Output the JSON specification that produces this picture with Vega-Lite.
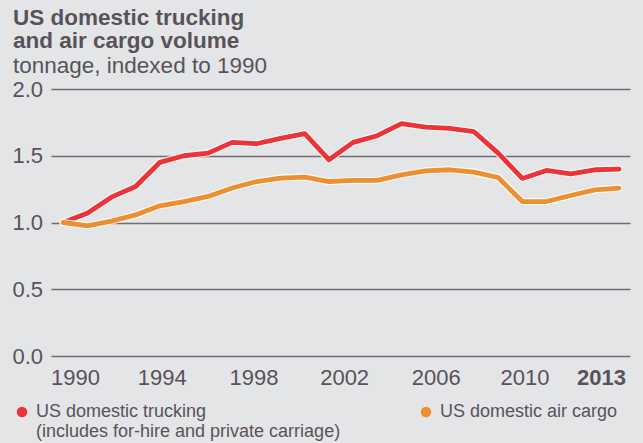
{
  "$schema": "https://vega.github.io/schema/vega-lite/v6.json",
  "width": 579,
  "height": 267,
  "autosize": {"type": "none"},
  "padding": {"left": 51, "top": 89, "right": 13, "bottom": 87},
  "background": "#e4e5e7",
  "config": {
    "view": {"stroke": null},
    "font": "Liberation Sans"
  },
  "title": {
    "text": ["US domestic trucking", "and air cargo volume"],
    "subtitle": "tonnage, indexed to 1990",
    "anchor": "start",
    "frame": "group",
    "dx": -38,
    "offset": 1,
    "font": "Liberation Sans",
    "fontSize": 22.5,
    "fontWeight": "bold",
    "lineHeight": 23.5,
    "color": "#58535a",
    "subtitleFont": "Liberation Sans",
    "subtitleFontSize": 22.5,
    "subtitleColor": "#58535a",
    "subtitlePadding": 2
  },
  "data": {
    "values": [
      {"year": 1990, "series": "US domestic trucking", "value": 1.00},
      {"year": 1991, "series": "US domestic trucking", "value": 1.07},
      {"year": 1992, "series": "US domestic trucking", "value": 1.19},
      {"year": 1993, "series": "US domestic trucking", "value": 1.27},
      {"year": 1994, "series": "US domestic trucking", "value": 1.45},
      {"year": 1995, "series": "US domestic trucking", "value": 1.50},
      {"year": 1996, "series": "US domestic trucking", "value": 1.52},
      {"year": 1997, "series": "US domestic trucking", "value": 1.60},
      {"year": 1998, "series": "US domestic trucking", "value": 1.59},
      {"year": 1999, "series": "US domestic trucking", "value": 1.63},
      {"year": 2000, "series": "US domestic trucking", "value": 1.665},
      {"year": 2001, "series": "US domestic trucking", "value": 1.47},
      {"year": 2002, "series": "US domestic trucking", "value": 1.60},
      {"year": 2003, "series": "US domestic trucking", "value": 1.65},
      {"year": 2004, "series": "US domestic trucking", "value": 1.74},
      {"year": 2005, "series": "US domestic trucking", "value": 1.715},
      {"year": 2006, "series": "US domestic trucking", "value": 1.705},
      {"year": 2007, "series": "US domestic trucking", "value": 1.68},
      {"year": 2008, "series": "US domestic trucking", "value": 1.52},
      {"year": 2009, "series": "US domestic trucking", "value": 1.33},
      {"year": 2010, "series": "US domestic trucking", "value": 1.39},
      {"year": 2011, "series": "US domestic trucking", "value": 1.365},
      {"year": 2012, "series": "US domestic trucking", "value": 1.395},
      {"year": 2013, "series": "US domestic trucking", "value": 1.40},
      {"year": 1990, "series": "US domestic air cargo", "value": 1.00},
      {"year": 1991, "series": "US domestic air cargo", "value": 0.975},
      {"year": 1992, "series": "US domestic air cargo", "value": 1.01},
      {"year": 1993, "series": "US domestic air cargo", "value": 1.057},
      {"year": 1994, "series": "US domestic air cargo", "value": 1.125},
      {"year": 1995, "series": "US domestic air cargo", "value": 1.157},
      {"year": 1996, "series": "US domestic air cargo", "value": 1.195},
      {"year": 1997, "series": "US domestic air cargo", "value": 1.258},
      {"year": 1998, "series": "US domestic air cargo", "value": 1.307},
      {"year": 1999, "series": "US domestic air cargo", "value": 1.333},
      {"year": 2000, "series": "US domestic air cargo", "value": 1.34},
      {"year": 2001, "series": "US domestic air cargo", "value": 1.307},
      {"year": 2002, "series": "US domestic air cargo", "value": 1.315},
      {"year": 2003, "series": "US domestic air cargo", "value": 1.315},
      {"year": 2004, "series": "US domestic air cargo", "value": 1.357},
      {"year": 2005, "series": "US domestic air cargo", "value": 1.387},
      {"year": 2006, "series": "US domestic air cargo", "value": 1.395},
      {"year": 2007, "series": "US domestic air cargo", "value": 1.378},
      {"year": 2008, "series": "US domestic air cargo", "value": 1.337},
      {"year": 2009, "series": "US domestic air cargo", "value": 1.157},
      {"year": 2010, "series": "US domestic air cargo", "value": 1.157},
      {"year": 2011, "series": "US domestic air cargo", "value": 1.202},
      {"year": 2012, "series": "US domestic air cargo", "value": 1.245},
      {"year": 2013, "series": "US domestic air cargo", "value": 1.258}
    ]
  },
  "encoding": {
    "x": {
      "field": "year",
      "type": "quantitative",
      "scale": {"domain": [1989.5, 2013.455], "nice": false, "zero": false},
      "axis": {
        "title": null,
        "values": [1990, 1994, 1998, 2002, 2006, 2010, 2013],
        "format": "d",
        "grid": false,
        "ticks": false,
        "domain": false,
        "labelFont": "Liberation Sans",
        "labelFontSize": 22,
        "labelColor": "#58535a",
        "labelPadding": 11,
        "labelBaseline": "top",
        "labelFontWeight": {"condition": {"test": "datum.value == 2013", "value": "bold"}, "value": "normal"},
        "labelOffset": {
          "condition": [
            {"test": "datum.value == 1990", "value": 12},
            {"test": "datum.value == 1994", "value": 2},
            {"test": "datum.value == 1998", "value": -3},
            {"test": "datum.value == 2002", "value": -9},
            {"test": "datum.value == 2006", "value": -14},
            {"test": "datum.value == 2010", "value": -22},
            {"test": "datum.value == 2013", "value": -18}
          ],
          "value": 0
        }
      }
    },
    "y": {
      "field": "value",
      "type": "quantitative",
      "scale": {"domain": [0, 2], "nice": false},
      "axis": {
        "title": null,
        "values": [0, 0.5, 1, 1.5, 2],
        "format": ".1f",
        "grid": true,
        "gridColor": "#716c72",
        "gridWidth": 1.6,
        "gridOpacity": 1,
        "ticks": false,
        "domain": false,
        "labelAlign": "left",
        "labelBaseline": "middle",
        "labelPadding": 39,
        "labelFont": "Liberation Sans",
        "labelFontSize": 22,
        "labelColor": "#58535a"
      }
    },
    "color": {
      "field": "series",
      "type": "nominal",
      "scale": {
        "domain": ["US domestic trucking", "US domestic air cargo"],
        "range": ["#ec3338", "#eb8f30"]
      },
      "legend": {
        "title": null,
        "orient": "none",
        "legendX": -38,
        "legendY": 314,
        "direction": "horizontal",
        "columns": 2,
        "columnPadding": 76,
        "symbolType": "circle",
        "symbolSize": 110,
        "symbolStrokeWidth": 0,
        "labelFont": "Liberation Sans",
        "labelFontSize": 18,
        "labelColor": "#58535a",
        "labelOffset": 5,
        "labelLimit": 0,
        "labelExpr": "datum.value == 'US domestic trucking' ? ['US domestic trucking', '(includes for-hire and private carriage)'] : [datum.label, ' ']",
        "encode": {
          "symbols": {"update": {"fill": {"scale": "color", "field": "value"}, "strokeWidth": {"value": 0}}}
        }
      }
    }
  },
  "layer": [
    {
      "transform": [{"filter": "datum.series == 'US domestic trucking'"}],
      "mark": {"type": "line", "color": "#ffffff", "strokeWidth": 7, "strokeCap": "round", "strokeJoin": "round", "opacity": 0.85},
      "encoding": {"color": {"value": "#ffffff"}}
    },
    {
      "transform": [{"filter": "datum.series == 'US domestic trucking'"}],
      "mark": {"type": "line", "strokeWidth": 4.8, "strokeCap": "round", "strokeJoin": "round"}
    },
    {
      "transform": [{"filter": "datum.series == 'US domestic air cargo'"}],
      "mark": {"type": "line", "color": "#ffffff", "strokeWidth": 7, "strokeCap": "round", "strokeJoin": "round", "opacity": 0.85},
      "encoding": {"color": {"value": "#ffffff"}}
    },
    {
      "transform": [{"filter": "datum.series == 'US domestic air cargo'"}],
      "mark": {"type": "line", "strokeWidth": 4.8, "strokeCap": "round", "strokeJoin": "round"}
    }
  ]
}
